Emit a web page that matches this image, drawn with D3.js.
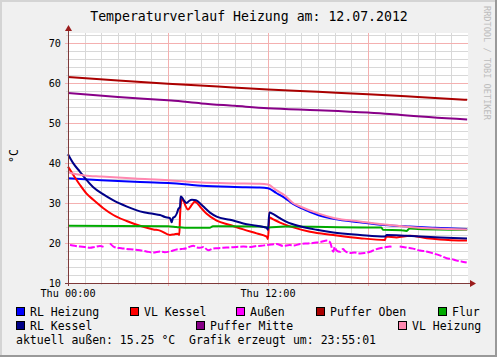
<!DOCTYPE html>
<html><head><meta charset="utf-8">
<script src="https://cdn.jsdelivr.net/npm/d3@7"></script>
<style>body{margin:0;background:#f0f0f0}svg{display:block}text{font-family:"DejaVu Sans Mono",monospace}</style>
</head><body><svg id="c" width="497" height="357"></svg>
<script>
const title = "Temperaturverlauf Heizung am: 12.07.2012";
const yTicks = [10,20,30,40,50,60,70];
const xTickHours = [0,12];
const xTickLabels = ["Thu 00:00","Thu 12:00"];
const seriesNames = ["RL Heizung","VL Kessel","Außen","Puffer Oben","Flur","RL Kessel","Puffer Mitte","VL Heizung"];
const seriesColors = ["#0000ff","#ff0000","#ff00ff","#aa0000","#00aa00","#000088","#880088","#ff88b0"];
const footer = "aktuell außen: 15.25 °C  Grafik erzeugt um: 23:55:01";

// [hour, °C]
const rlHeizung = [[0,36.2],[2,35.7],[4,35.3],[6,35.0],[7,34.7],[8,34.3],[10,34.0],[11.5,33.9],[12,33.7],[12.5,32.5],[13,31.3],[13.5,29.8],[14,28.7],[15,27.0],[16,26.0],[17.5,25.2],[19,24.5],[20.5,24.1],[22,23.8],[23.95,23.5]];
const vlKessel = [[0,39.1],[0.32,37.0],[0.72,34.5],[1.1,32.4],[1.52,30.8],[2.12,28.7],[2.72,27.0],[3.52,25.5],[4.32,24.3],[5.12,23.4],[5.52,23.1],[6.12,22.0],[6.4,22.2],[6.6,22.3],[6.68,22.0],[6.72,26.6],[6.78,30.0],[6.86,31.0],[6.96,30.3],[7.05,29.3],[7.2,28.4],[7.44,29.6],[7.6,30.3],[7.74,30.0],[7.92,29.1],[8.32,27.3],[8.92,25.6],[9.72,24.5],[10.52,23.4],[11.32,22.4],[11.92,21.6],[12.0,21.0],[12.08,26.4],[12.32,25.9],[12.72,25.1],[13.52,23.9],[14.52,22.8],[15.92,22.0],[17.52,21.2],[19.02,20.75],[19.08,21.6],[19.72,21.4],[20.52,21.8],[21.52,21.2],[22.32,20.9],[23.94,20.6]];
const aussen = [[0.12,19.5],[0.4,19.3],[0.72,19.1],[1.0,19.0],[1.32,18.8],[1.6,19.0],[1.92,19.25],[2.16,19.0],[2.4,null],[2.52,19.9],[2.7,19.2],[2.92,18.8],[3.2,18.7],[3.52,18.5],[3.9,18.4],[4.32,18.2],[4.7,17.9],[5.12,17.6],[5.52,17.9],[5.8,17.7],[6.12,17.9],[6.52,18.4],[6.8,18.5],[7.12,18.7],[7.32,19.1],[7.52,19.3],[7.72,18.9],[7.92,18.8],[8.12,19.0],[8.42,18.2],[8.7,18.6],[8.92,18.7],[9.3,18.8],[9.72,18.9],[10.1,19.0],[10.52,19.1],[10.9,19.0],[11.32,19.25],[11.6,19.3],[11.92,19.5],[12.2,19.6],[12.52,19.75],[12.92,19.25],[13.3,19.5],[13.6,19.4],[13.92,19.75],[14.4,19.9],[14.92,20.1],[15.2,20.3],[15.52,20.6],[15.72,20.2],[15.92,17.8],[16.0,19.0],[16.1,18.2],[16.32,17.8],[16.5,18.5],[16.62,18.0],[16.92,17.5],[17.2,17.6],[17.52,17.4],[17.8,17.5],[18.12,17.8],[18.4,18.3],[18.72,18.7],[19.0,18.9],[19.32,19.1],[19.5,19.0],[19.6,null],[19.9,19.1],[20.1,19.0],[20.32,18.9],[20.7,18.6],[21.12,18.1],[21.5,17.9],[21.92,17.4],[22.3,16.9],[22.72,16.2],[23.0,16.0],[23.32,15.6],[23.6,15.4],[23.92,15.1]];
const pufferOben = [[0,61.5],[3,60.6],[6,59.8],[9,59.1],[12,58.4],[15,57.8],[18,57.2],[21,56.5],[23.95,55.8]];
const flur = [[0,24.3],[6.0,24.2],[6.5,24.0],[7.0,23.8],[8.5,23.8],[8.7,24.2],[11.5,24.1],[12,23.9],[13,24.1],[18,23.9],[18.8,23.9],[18.9,23.3],[20,23.2],[20.3,23.0],[20.5,23.6],[21,23.5],[23.95,23.3]];
const rlKessel = [[0,42.2],[0.32,39.9],[0.72,37.8],[1.02,36.2],[1.5,34.0],[2.1,32.2],[2.7,30.7],[3.54,29.1],[4.32,27.9],[5.1,27.3],[5.52,27.0],[5.82,26.5],[6.12,26.2],[6.22,25.2],[6.3,26.3],[6.42,26.6],[6.54,27.5],[6.62,28.5],[6.72,29.0],[6.76,31.6],[6.84,31.4],[6.96,30.6],[7.12,30.0],[7.26,30.5],[7.44,30.8],[7.68,30.7],[7.82,30.3],[8.12,29.1],[8.52,27.6],[8.92,26.6],[9.72,25.8],[10.52,24.9],[11.32,24.3],[11.92,23.8],[12.0,23.3],[12.08,27.6],[12.32,27.2],[12.72,26.2],[13.12,25.3],[13.92,24.2],[14.92,23.3],[15.92,22.6],[17.52,22.0],[19.02,21.6],[19.12,22.0],[20.32,21.8],[22.32,21.4],[23.94,21.1]];
const pufferMitte = [[0,57.5],[3,56.5],[5.5,55.8],[6.2,55.6],[8,54.9],[10,54.3],[12,53.7],[15,53.2],[18,52.6],[19.5,52.2],[20,52.0],[23.95,50.9]];
const vlHeizung = [[0,37.7],[0.5,37.2],[1,36.9],[2,36.6],[4,36.1],[6,35.7],[8,35.1],[10,34.9],[11.5,34.8],[12,34.6],[12.5,33.2],[13,31.9],[13.5,30.0],[14,29.0],[15,27.4],[16,26.2],[17.5,25.4],[19,24.6],[20.5,24.0],[22,23.6],[23.95,23.4]];
const seriesData = [rlHeizung,vlKessel,aussen,pufferOben,flur,rlKessel,pufferMitte,vlHeizung];

const svg = d3.select("#c");
const W=497,H=357;
const L=68,R=468,T=33,B=283;
const x = d3.scaleLinear().domain([0,24]).range([L,R]);
const y = d3.scaleLinear().domain([10,72.5]).range([B,T]);

// frame
svg.append("rect").attr("width",W).attr("height",H).attr("fill","#f0f0f0");
svg.append("rect").attr("x",0).attr("y",0).attr("width",W).attr("height",2).attr("fill","#d4d4d4");
svg.append("rect").attr("x",0).attr("y",0).attr("width",2).attr("height",H).attr("fill","#d4d4d4");
svg.append("rect").attr("x",W-2).attr("y",0).attr("width",2).attr("height",H).attr("fill","#999");
svg.append("rect").attr("x",0).attr("y",H-2).attr("width",W).attr("height",2).attr("fill","#999");

svg.append("rect").attr("x",L).attr("y",T).attr("width",R-L).attr("height",B-T).attr("fill","#fff");

// grid
const g = svg.append("g").attr("shape-rendering","crispEdges");
d3.range(1,24).filter(h=>h%6!==0).forEach(h=>{
  g.append("line").attr("x1",Math.round(x(h))+0.5).attr("x2",Math.round(x(h))+0.5).attr("y1",T).attr("y2",B+2).attr("stroke","#d8d8d8");
});
d3.range(12,73,2).filter(v=>v%10!==0).forEach(v=>{
  g.append("line").attr("x1",L-2).attr("x2",R).attr("y1",Math.round(y(v))+0.5).attr("y2",Math.round(y(v))+0.5).attr("stroke","#d8d8d8");
});
[6,12,18].forEach(h=>{
  g.append("line").attr("x1",Math.round(x(h))+0.5).attr("x2",Math.round(x(h))+0.5).attr("y1",T).attr("y2",B+3).attr("stroke","#f4b0b0");
});
yTicks.filter(v=>v>10).forEach(v=>{
  g.append("line").attr("x1",L-3).attr("x2",R).attr("y1",Math.round(y(v))+0.5).attr("y2",Math.round(y(v))+0.5).attr("stroke","#f4b0b0");
});

// y labels
svg.append("g").selectAll("text").data(yTicks).join("text")
  .attr("x",61).attr("y",d=>y(d)+3.7).attr("text-anchor","end")
  .attr("font-size","10.2px").attr("fill","#000").text(d=>d);
// x labels
svg.append("g").selectAll("text").data(xTickHours).join("text")
  .attr("x",d=>x(d)).attr("y",296.5).attr("text-anchor","middle")
  .attr("font-size","10.2px").attr("fill","#000").text((d,i)=>xTickLabels[i]);

// series
const line = d3.line().defined(d=>d[1]!==null).curve(d3.curveMonotoneX).x(d=>x(d[0])).y(d=>y(d[1]));
const sg = svg.append("g").attr("fill","none").attr("stroke-width",2).attr("stroke-linejoin","round");
seriesData.forEach((data,i)=>{
  const p = sg.append("path").attr("d",line(data)).attr("stroke",seriesColors[i]);
  if (seriesNames[i]==="Außen") p.attr("stroke-dasharray","7,2");
});

// axes
const ax = svg.append("g");
ax.append("line").attr("x1",L+0.5).attr("x2",L+0.5).attr("y1",B+3).attr("y2",T-4).attr("stroke","#7f3a3a").attr("shape-rendering","crispEdges");
ax.append("line").attr("x1",L-3).attr("x2",R+3).attr("y1",B+0.5).attr("y2",B+0.5).attr("stroke","#7f3a3a").attr("shape-rendering","crispEdges");
ax.append("path").attr("d",`M${L-3},${T-2} L${L+0.5+3.5},${T-2} L${L+0.5},${T-8} Z`).attr("fill","#9b1c1c");
ax.append("path").attr("d",`M${R+2},${B+0.5-3.5} L${R+2},${B+0.5+3.5} L${R+8},${B+0.5} Z`).attr("fill","#9b1c1c");

// title
svg.append("text").attr("x",249).attr("y",21).attr("text-anchor","middle").attr("font-size","13.2px").attr("fill","#000").text(title);
// y unit
svg.append("text").attr("transform","translate(18,156) rotate(-90)").attr("text-anchor","middle").attr("font-size","11.5px").attr("fill","#000").text("°C");
// watermark
svg.append("text").attr("transform","translate(484,6) rotate(90)").attr("text-anchor","start").attr("font-size","8.6px").attr("fill","#bdbdbd").text("RRDTOOL / TOBI OETIKER");

// legend
const legPos = [[16,316],[130,316],[236,316],[316,316],[438,316],[16,330],[196,330],[398,330]];
const lg = svg.append("g");
seriesNames.forEach((n,i)=>{
  const [lx,ly]=legPos[i];
  lg.append("rect").attr("x",lx+0.5).attr("y",ly-8.5).attr("width",8).attr("height",8).attr("fill",seriesColors[i]).attr("stroke","#000").attr("stroke-width",1).attr("shape-rendering","crispEdges");
  lg.append("text").attr("x",lx+14).attr("y",ly).attr("font-size","11.5px").attr("fill","#000").text(n);
});
svg.append("text").attr("x",16).attr("y",343.5).attr("font-size","11.5px").attr("fill","#000").attr("xml:space","preserve").style("white-space","pre").text(footer);
</script></body></html>
